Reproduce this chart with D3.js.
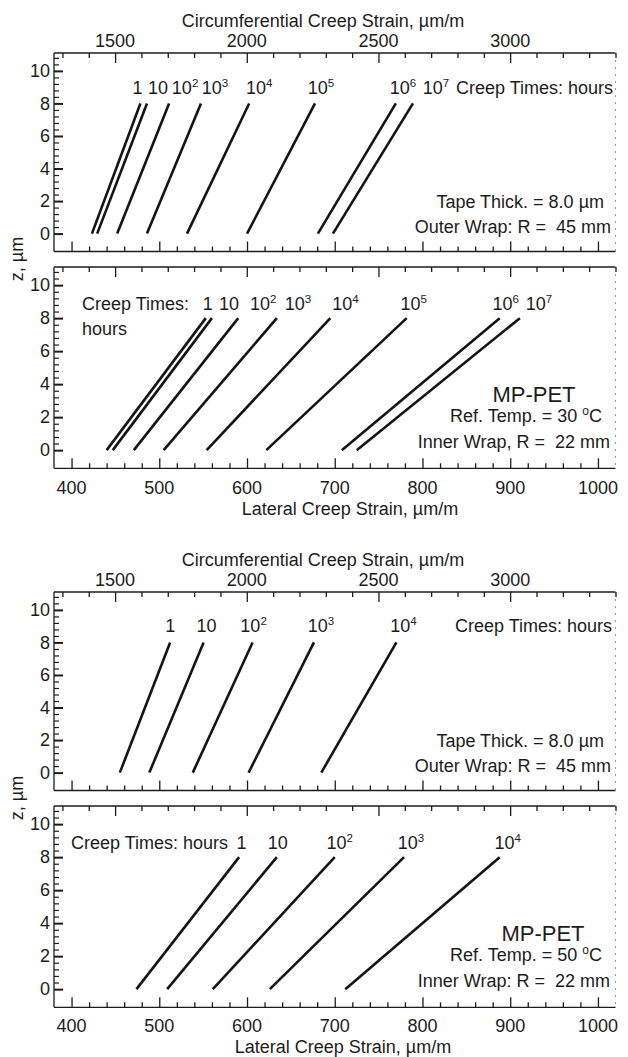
<!DOCTYPE html>
<html>
<head>
<meta charset="utf-8">
<script src="https://cdn.jsdelivr.net/npm/d3@7"></script>
<style>
  body { margin: 0; background: #fff; }
  text { font-family: "Liberation Sans", Arial, Helvetica, sans-serif; fill: #1c1c1c; }
</style>
</head>
<body>
<svg id="fig" width="628" height="1057"></svg>
<script>
// ---- Data: strain through tape thickness, read at z = 0 and z = 8 µm ----
// creep time exponents, time = 10^n hours
const times30 = [0, 1, 2, 3, 4, 5, 6, 7];
const times50 = [0, 1, 2, 3, 4];
const zEnds = [0, 8];

// 30 °C, outer wrap (R = 45 mm): circumferential strain, µm/m
const circ30Base = [1412, 1432, 1508, 1621, 1773, 2001, 2270, 2327];
const circ30Top  = [1596, 1621, 1705, 1826, 2009, 2259, 2566, 2631];
// 30 °C, inner wrap (R = 22 mm): lateral strain, µm/m
const lat30Base = [440, 447, 471, 505, 554, 622, 708, 725];
const lat30Top  = [553, 560, 590, 634, 695, 782, 888, 911];
// 50 °C, outer wrap: circumferential strain
const circ50Base = [1518, 1630, 1795, 2007, 2283];
const circ50Top  = [1709, 1836, 2022, 2255, 2568];
// 50 °C, inner wrap: lateral strain
const lat50Base = [474, 509, 561, 626, 712];
const lat50Top  = [591, 634, 700, 779, 888];

// axis ticks
const circMajor = [1500, 2000, 2500, 3000];
const latMajor = [400, 500, 600, 700, 800, 900, 1000];
const zMajor = [0, 2, 4, 6, 8, 10];

// ---- Layout ----
const svg = d3.select("#fig");
const X0 = 54, X1 = 615.5;
const circX = d3.scaleLinear().domain([1268, 3400]).range([X0, X1]);
const latX  = d3.scaleLinear().domain([380, 1020]).range([X0, X1]);
const zDomain = [-1.1, 11.1];
const ink = "#1c1c1c";

function addPow(sel, n, supSize, rise) {
  if (n === 0) { sel.text("1"); return; }
  sel.append("tspan").text("10");
  if (n >= 2) {
    sel.append("tspan").attr("font-size", supSize).attr("dy", -rise).text(String(n));
  }
}

function drawPanel(g, cfg) {
  const y = d3.scaleLinear().domain(zDomain).range([cfg.y1, cfg.y0]);

  // frame: left, top, bottom solid; right edge faint
  g.append("line").attr("x1", X0).attr("x2", X1).attr("y1", cfg.y0).attr("y2", cfg.y0)
    .attr("stroke", ink).attr("stroke-width", 1.3);
  g.append("line").attr("x1", X0).attr("x2", X1).attr("y1", cfg.y1).attr("y2", cfg.y1)
    .attr("stroke", ink).attr("stroke-width", 1.3);
  g.append("line").attr("x1", X0).attr("x2", X0).attr("y1", cfg.y0).attr("y2", cfg.y1)
    .attr("stroke", ink).attr("stroke-width", 1.3);
  g.append("line").attr("x1", X1).attr("x2", X1).attr("y1", cfg.y0).attr("y2", cfg.y1)
    .attr("stroke", "#9a9a9a").attr("stroke-width", 1).attr("stroke-dasharray", "2,5");

  // top edge: circumferential ticks, pointing inward
  const topAx = d3.axisBottom(circX)
    .tickValues(d3.range(1300, 3401, 100))
    .tickSize(0).tickFormat("");
  const tg = g.append("g").attr("transform", `translate(0,${cfg.y0})`).call(topAx);
  tg.select(".domain").remove();
  tg.selectAll(".tick line")
    .attr("y2", d => circMajor.includes(d) ? 10 : 5)
    .attr("stroke", ink).attr("stroke-width", 1.3);

  // bottom edge: lateral ticks, pointing inward
  const botAx = d3.axisTop(latX)
    .tickValues(d3.range(400, 1001, 20))
    .tickSize(0).tickFormat("");
  const bg = g.append("g").attr("transform", `translate(0,${cfg.y1})`).call(botAx);
  bg.select(".domain").remove();
  bg.selectAll(".tick line")
    .attr("y2", d => latMajor.includes(d) ? -10 : -5)
    .attr("stroke", ink).attr("stroke-width", 1.3);

  // left edge: z ticks, major every 2, minor every 0.4
  const zTicks = d3.range(0, 54).map(i => +(i * 0.4).toFixed(1)).filter(v => v <= 10.8);
  const lAx = d3.axisRight(y).tickValues(zTicks).tickSize(0).tickFormat("");
  const lg = g.append("g").attr("transform", `translate(${X0},0)`).call(lAx);
  lg.select(".domain").remove();
  lg.selectAll(".tick line")
    .attr("x2", d => zMajor.includes(d) ? 9 : 5)
    .attr("stroke", ink).attr("stroke-width", d => zMajor.includes(d) ? 2 : 1.2);

  // z tick labels
  g.selectAll("text.zlab").data(zMajor).join("text").attr("class", "zlab")
    .attr("x", 50).attr("y", d => y(d)).attr("dy", "0.35em")
    .attr("text-anchor", "end").attr("font-size", 18).text(d => d);

  // strain profiles
  const xs = cfg.x;
  const line = d3.line().x(d => xs(d.v)).y(d => y(d.z));
  cfg.times.forEach((t, i) => {
    const pts = [{ z: zEnds[0], v: cfg.base[i] }, { z: zEnds[1], v: cfg.top[i] }];
    g.append("path").datum(pts).attr("d", line)
      .attr("fill", "none").attr("stroke", "#141414").attr("stroke-width", 2.6)
      .attr("stroke-linecap", "butt");
    const lab = g.append("text")
      .attr("x", xs(cfg.top[i]) + cfg.labDx[i]).attr("y", cfg.labY)
      .attr("text-anchor", "middle").attr("font-size", 18);
    addPow(lab, t, 11.5, 7);
  });

  // notes
  cfg.notes.forEach(n => {
    const t = g.append("text").attr("x", n.x).attr("y", n.y)
      .attr("text-anchor", n.anchor || "end").attr("font-size", n.size || 18)
      .style("white-space", "pre");
    if (n.deg) {
      t.append("tspan").text(n.text);
      t.append("tspan").attr("font-size", 12).attr("dy", -7).text("o");
      t.append("tspan").attr("dy", 7).text("C");
    } else {
      t.text(n.text);
    }
  });
}

function drawFigure(offset, spec) {
  const f = svg.append("g").attr("transform", `translate(0,${offset})`);

  // upper axis title and labels (circumferential)
  f.append("text").attr("x", 323).attr("y", 26.5).attr("text-anchor", "middle")
    .attr("font-size", 18).text("Circumferential Creep Strain, \u00b5m/m");
  f.selectAll("text.clab").data(circMajor).join("text").attr("class", "clab")
    .attr("x", d => circX(d)).attr("y", 46.7).attr("text-anchor", "middle")
    .attr("font-size", 18).text(d => d);

  // lower axis labels and title (lateral)
  f.selectAll("text.llab").data(latMajor).join("text").attr("class", "llab")
    .attr("x", d => latX(d)).attr("y", spec.latLabY).attr("text-anchor", "middle")
    .attr("font-size", 18).text(d => d);
  f.append("text").attr("x", spec.latTitleX).attr("y", spec.latTitleY).attr("text-anchor", "middle")
    .attr("font-size", 18).text("Lateral Creep Strain, \u00b5m/m");

  // shared z title
  f.append("text").attr("transform", "translate(23,259) rotate(-90)")
    .attr("text-anchor", "middle").attr("font-size", 18).text("z, \u00b5m");

  drawPanel(f.append("g"), Object.assign({ y0: 53, y1: 251.5, x: circX }, spec.upper));
  drawPanel(f.append("g"), Object.assign({ y0: 267, y1: 468.3, x: latX }, spec.lower));
}

// ---- Figure: 30 °C ----
drawFigure(0, {
  latTitleX: 350, latTitleY: 515, latLabY: 494,
  upper: {
    times: times30, base: circ30Base, top: circ30Top,
    labY: 94, labDx: [-3, 11, 16, 14, 10, 6, 7, 23],
    notes: [
      { text: "Creep Times: hours", x: 613, y: 94 },
      { text: "Tape Thick. = 8.0 \u00b5m", x: 604, y: 208 },
      { text: "Outer Wrap: R =  45 mm", x: 611, y: 233 }
    ]
  },
  lower: {
    times: times30, base: lat30Base, top: lat30Top,
    labY: 310, labDx: [2, 17, 25, 21, 15, 7, 6, 19],
    notes: [
      { text: "Creep Times:", x: 82, y: 310, anchor: "start" },
      { text: "hours", x: 82, y: 335, anchor: "start" },
      { text: "MP-PET", x: 534, y: 402, anchor: "middle", size: 22 },
      { text: "Ref. Temp. = 30 ", x: 602, y: 422, deg: true },
      { text: "Inner Wrap, R =  22 mm", x: 610, y: 448 }
    ]
  }
});

// ---- Figure: 50 °C ----
drawFigure(539, {
  latTitleX: 343, latTitleY: 513.5, latLabY: 492.5,
  upper: {
    times: times50, base: circ50Base, top: circ50Top,
    labY: 93.3, labDx: [0, 3, 1, 7, 7],
    notes: [
      { text: "Creep Times: hours", x: 612, y: 93.3 },
      { text: "Tape Thick. = 8.0 \u00b5m", x: 604, y: 208 },
      { text: "Outer Wrap: R =  45 mm", x: 611, y: 233 }
    ]
  },
  lower: {
    times: times50, base: lat50Base, top: lat50Top,
    labY: 310, labDx: [2.5, 1, 5, 7, 8],
    notes: [
      { text: "Creep Times: hours", x: 71, y: 310, anchor: "start" },
      { text: "MP-PET", x: 543, y: 402, anchor: "middle", size: 22 },
      { text: "Ref. Temp. = 50 ", x: 602, y: 422, deg: true },
      { text: "Inner Wrap: R =  22 mm", x: 610, y: 448 }
    ]
  }
});
</script>
</body>
</html>
